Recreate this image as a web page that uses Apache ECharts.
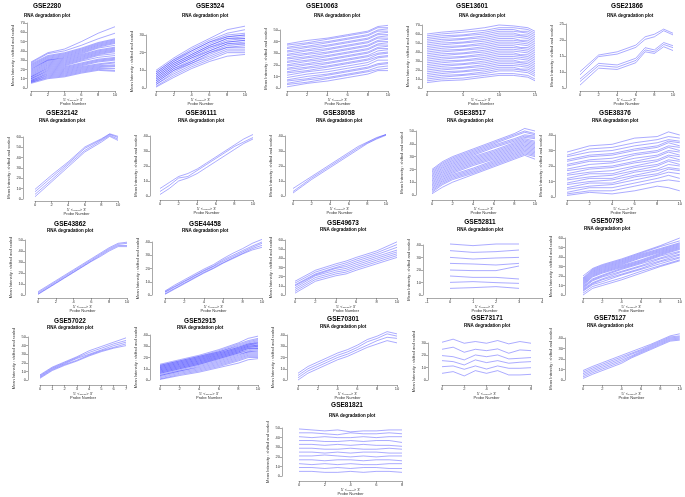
<!DOCTYPE html>
<html><head><meta charset="utf-8">
<script src="https://cdn.jsdelivr.net/npm/echarts@6/dist/echarts.min.js"></script>
<style>html,body{margin:0;padding:0;background:#fff}#c{width:685px;height:497px}</style>
</head><body><div id="c"></div>
<script>
// ---------- DATA ----------
const xs6 = [0,2,4,6,8,10];
const xs11 = [0,1,2,3,4,5,6,7,8,9,10];
const gse2280X = xs6;
const gse2280 = [[28,38,42,50,59,66],[27,37,40,46,53,59],[26,35,38,43,49,53],[25,34,37,42,48,52],[24,33,36,41,47,51],[23,32,35,40,46,50],[22,31,34,39,45,49],[21,30,33,38,44,48],[20,30,32,37,43,46],[19,29,31,36,41,44],[18,28,30,35,40,43],[17,27,29,34,39,42],[16,26,28,33,38,41],[15,25,27,32,37,40],[14,24,26,31,36,39],[13,23,25,30,35,37],[12,22,24,29,33,35],[12,21,23,27,31,33],[11,20,22,26,30,32],[10,19,21,25,29,31],[10,18,20,24,28,30],[9,17,19,23,26,28],[8,16,18,22,25,27],[8,15,17,21,24,25],[7,14,16,20,23,24],[7,13,15,19,22,23],[6,12,14,18,21,21],[6,11,13,17,20,19],[5,10,12,16,19,18]];
const gse3524X = xs6;
const gse3524 = [[10,17,23,28,33,35],[9,16,22,27,31,33],[9,16,21,26,30,31],[8,15,21,26,29,30],[8,15,20,25,29,30],[7,14,19,24,28,29],[7,14,19,24,28,28],[6,13,18,23,27,28],[6,13,18,23,26,27],[5,12,17,22,26,27],[5,12,17,21,25,26],[4,11,16,21,25,25],[4,11,15,20,24,25],[3,10,15,20,23,24],[3,10,14,19,23,23],[2,9,14,18,22,22],[2,8,13,17,21,21],[1,7,12,16,20,20],[0.5,6,11,15,18,19]];
const gse10063X = [0,2,4,6,8,9,10];
const gse10063 = [[38,41,43,46,49,53,54],[37,39,42,45,48,52,52],[35,38,40,43,46,50,51],[34,36,39,42,45,49,49],[32,35,37,40,43,47,48],[31,33,36,39,42,46,46],[29,32,34,37,40,44,45],[28,30,33,36,39,43,43],[26,29,31,34,37,41,42],[25,27,30,33,36,40,40],[23,26,28,31,34,38,39],[22,24,27,30,33,37,37],[20,23,25,28,31,35,36],[19,21,24,27,30,34,34],[17,20,22,25,28,32,33],[16,18,21,24,27,30,31],[14,17,19,22,25,29,30],[13,15,18,21,24,27,28],[11,14,16,19,22,26,27],[9,12,14,17,20,24,24],[7,10,12,15,18,21,22],[6,8,11,14,17,20,21],[4,7,9,12,15,18,19],[3,5,8,11,14,16,17],[1,4,6,9,12,15,15]];
const gse13601X = [0,2,5,8,10,12,13,14,15];
const gse13601 = [[60,62,64,67,70,69,68,67,63],[58,60,62,64,67,67,66,65,61],[56,58,59,62,65,65,63,63,59],[54,56,58,60,63,63,62,61,57],[52,54,55,58,61,61,59,59,55],[50,52,54,56,59,59,58,57,53],[48,50,51,54,57,57,56,55,51],[46,48,50,52,55,55,53,53,49],[44,46,47,50,53,53,52,51,47],[42,44,46,48,51,51,50,49,45],[40,42,43,46,49,49,48,47,43],[38,40,42,44,47,47,45,45,41],[36,38,39,42,45,45,44,43,39],[34,36,38,40,43,43,42,41,37],[32,34,35,38,41,41,40,39,35],[30,32,34,36,39,39,37,37,33],[28,30,31,34,37,37,36,35,31],[26,28,30,32,35,35,34,33,29],[24,26,27,30,33,33,32,31,27],[22,24,26,28,31,31,29,29,25],[20,22,23,26,29,29,28,27,23],[18,20,22,24,27,27,26,25,21],[16,18,19,22,25,25,24,23,19],[14,16,18,20,23,23,21,21,17],[12,14,15,18,21,21,20,19,15],[10,12,14,16,19,19,18,17,13],[8,10,11,14,16,16,15,14,10],[6,8,9,12,14,14,13,12,8]];
const gse21866X = [0,2,4,6,7,8,9,10];
const gse21866 = [[10.1,15.3,16.3,18.4,21.0,21.8,23.4,22.1],[9.1,14.8,15.6,17.7,20.2,21.0,22.9,21.6],[7.8,12.7,12.2,14.3,17.6,16.9,19.2,18.2],[7.0,12.0,11.5,13.6,16.9,16.3,18.6,17.6],[5.9,11.2,10.8,12.9,16.3,15.8,17.9,16.7]];
const gse32142X = [0,2,4,6,8,9,10];
const gse32142 = [[9.3,23.1,35.9,50.3,58.3,63.1,60.6],[7,21,34.5,49,57.5,62.5,59.5],[4.5,18.5,33,47,56.5,61.5,58],[2.2,16.6,31.1,45.5,55.1,60.6,56.7]];
const gse36111X = xs11;
const gse36111 = [[5,9,13,15,18,22,26,30,34,38,41],[3,7,12,13,17,21,25,29,33,36,39],[1,5,10,12,15,19,23,27,31,35,38]];
const gse38058X = xs11;
const gse38058 = [[5,9,13,17,21,25,29,33,36,39,41],[3,7.5,12,16,20,24,28,32,35.5,38.5,41],[2,6.5,11,15,19,23,27,31,35,38,40.5]];
const gse38517X = [0,1,2,4,6,8,9,10];
const gse38517 = [[20,26,30,36,42,48,52,50],[19,25,29,35,41,47,50,48],[18,24,28,34,40,46,49,47],[17,23,27,33,39,44,47,46],[16,22,26,32,38,43,46,45],[15,21,25,31,37,42,45,44],[14,20,24,30,35,41,44,42],[13,19,23,29,34,40,43,41],[12,18,22,28,33,39,42,40],[11,17,21,27,32,38,41,39],[10,16,20,26,31,37,40,38],[9,15,19,25,30,36,39,37],[8,14,18,24,29,35,38,36],[7,13,17,23,28,34,37,35],[6,12,16,21,27,33,36,34],[5,11,15,20,26,32,35,33],[4,10,14,19,25,31,34,32],[3,9,13,18,24,30,33,31],[2,8,12,17,23,29,32,30],[1,6,10,16,22,28,31,28]];
const gse38376X = [0,2,4,6,8,9,10];
const gse38376 = [[29,33,34,38,39,42,40],[27,31,32,35,37,39,38],[26,29,30,33,35,37,36],[24,27,28,31,33,36,35],[23,26,27,30,32,35,33],[21,24,25,28,30,33,32],[20,23,23,27,29,32,30],[18,21,22,25,27,30,29],[17,19,20,23,26,29,27],[15,18,19,22,24,27,26],[14,16,17,20,23,26,24],[12,15,15,19,21,24,23],[11,13,14,17,20,23,21],[9,12,12,16,18,21,20],[8,10,11,14,17,19,18],[6,9,9,13,15,18,17],[5,7,8,11,14,16,15],[3,6,6,9,12,14,12],[2,4,4,7,10,11,10],[1,3,2,4,7,6,4]];
const gse43862X = xs11;
const gse43862 = [[3,8,13,18,23,28,33,38,43,47,48],[2,7,12,17,22,27,32,37,42,46,47],[1,6,11,16,21,26,31,36,41,45,45],[0.5,5.5,10.5,15.5,20.5,25.5,30.5,35,40,44,44]];
const gse44458X = xs11;
const gse44458 = [[3,7.5,11.5,15.5,19.5,23,27.5,31.5,35,39,42],[2.5,6.5,10.5,14.5,18.5,22,26.5,30,33.5,37,40],[2,6,10,14,18,21.5,25.5,29,32.5,36,39],[1,5,9,13,17,20.5,24.5,28,31.5,35,37.5],[0.5,4.5,8.5,12.5,16.5,20,24,27.5,31,34,36]];
const gse49673X = [0,2,4,5,6,8,10];
const gse49673 = [[15,27,34,37,41,48,58],[13,25,32,35,39,46,55],[11,23,30,33,37,44,52],[10,22,29,31,35,42,49],[8,21,27,29,33,40,47],[6,19,25,27,31,38,45],[4,17,23,25,29,36,43],[2,15,21,23,27,34,41]];
const gse52811X = [0,1,2,3];
const gse52811 = [[40.8,39.5,40.8,40.8],[35.5,34.1,34.7,36],[30.1,28.8,29.6,30.1],[25.3,24.8,24,25.3],[20,19.5,19.5,23.2],[15.2,14.1,14.1,12.8],[10.1,10.7,9.9,9.3],[5.3,5.9,6.7,5.3]];
const gse50795X = [0,1,2,4,6,8,10];
const gse50795 = [[20,28,32,38,45,52,60],[18,27,31,37,44,51,57],[17,26,30,36,43,49,55],[16,25,29,35,42,48,54],[15,24,28,34,41,47,53],[14,23,27,33,40,46,52],[13,22,26,32,39,45,51],[12,21,25,31,37,44,50],[11,20,24,30,36,43,49],[10,19,23,29,35,42,48],[9,17,21,28,34,41,46],[8,16,20,27,33,39,45],[7,15,19,25,31,38,43],[6,13,17,24,30,36,42],[5,12,16,22,28,35,40],[4,11,14,21,27,33,39],[2,9,12,18,25,31,37],[0,7,10,16,23,30,36]];
const gse57022X = [0,1,2,3,4,5,6,7];
const gse57022 = [[6,15,21,27,34,39,44,49],[5,14,20,26,32,37,42,46],[4,13,19,25,30,35,40,44],[3,12,18,23,29,34,38,42],[2,11,17,22,28,33,37,40]];
const gse52915X = [0,2,4,6,8,9,10];
const gse52915 = [[14,18,22,27,33,37,39],[13,17,21,26,32,35,37],[13,17,21,25,31,34,36],[12,16,20,25,30,33,35],[12,16,20,24,29,32,34],[11,15,19,24,29,32,33],[11,15,19,23,28,31,33],[10,14,18,23,28,31,32],[10,14,18,22,27,30,31],[9,13,17,22,27,30,31],[9,13,17,21,26,29,30],[8,12,16,21,26,29,30],[8,12,16,20,25,28,29],[7,11,15,20,25,28,28],[7,11,15,19,24,27,28],[6,10,14,19,24,26,27],[6,10,14,18,23,25,26],[5,9,13,17,22,25,25],[4,8,12,16,21,24,24],[4,8,11,15,20,23,23],[3,7,10,14,19,22,22],[2,6,9,13,18,21,21],[1,5,8,12,17,20,20],[0.5,4,7,11,15,18,19]];
const gse70301X = xs11;
const gse70301 = [[6,12,16,20,24,27,31,36,39,43,41],[4,10,14,18,22,25,29,34,37,41,39],[2,8,12,16,20,23,27,31,35,38,37],[0,6,10,14,18,21,25,29,32,35,33]];
const gse73171X = [0,1,2,3,4,5,6,7,8];
const gse73171 = [[30.6,33.1,29.8,31.2,29.8,32,29.3,31.2,29.8],[24.9,26.6,22.5,24.9,23.8,25.2,21.7,24.4,23.8],[19.8,18.9,16.3,20.3,18.9,20.3,17.1,17.6,18.2],[15.7,14.9,12.2,16.3,14.1,15.7,13.6,14.4,14.9],[10.8,11.4,8.7,11.4,8.9,11.4,9.5,9.5,10],[5.4,6.8,3.3,7.6,5.4,7.6,4.1,4.1,4.6]];
const gse75127X = xs11;
const gse75127 = [[9,13,16.5,20,23.5,27,30.5,34,38,42,44],[7.5,11.5,15,18.5,22,25.5,29,33,37,41,42],[6,10,13.5,17,20.5,24.5,28,32,36,40,41],[4.5,8.5,12,15.5,19,23,27,31,35,39,40],[3,7,10.5,14,17.5,22,26,30,34,38,39],[1.5,5.5,9,12.5,16,21,25,29,33,37,38]];
const gse81821X = [0,1,2,3,4,5,6,7,8];
const gse81821 = [[49,48,47,48,46,47,47,48,48],[45,45,44,43,45,44,44,45,44],[41,40,41,40,40,41,40,41,41],[37,37,36,36,37,36,37,37,35],[33,33,32,33,32,33,32,32,31],[29,29,28,28,29,28,28,29,28],[25,25,24,25,24,25,25,24,24],[21,21,22,21,20,21,20,21,21],[17,17,16,17,17,16,17,17,16],[13,12,13,12,13,12,12,13,13],[9,9,8,9,8,9,9,8,8],[5,5,4,4,5,4,5,5,4]];

const names = ['GSE2280','GSE3524','GSE10063','GSE13601','GSE21866','GSE32142','GSE36111','GSE38058','GSE38517','GSE38376','GSE43862','GSE44458','GSE49673','GSE52811','GSE50795','GSE57022','GSE52915','GSE70301','GSE73171','GSE75127','GSE81821'];
const lineData = {GSE2280:[gse2280X,gse2280],GSE3524:[gse3524X,gse3524],GSE10063:[gse10063X,gse10063],GSE13601:[gse13601X,gse13601],GSE21866:[gse21866X,gse21866],GSE32142:[gse32142X,gse32142],GSE36111:[gse36111X,gse36111],GSE38058:[gse38058X,gse38058],GSE38517:[gse38517X,gse38517],GSE38376:[gse38376X,gse38376],GSE43862:[gse43862X,gse43862],GSE44458:[gse44458X,gse44458],GSE49673:[gse49673X,gse49673],GSE52811:[gse52811X,gse52811],GSE50795:[gse50795X,gse50795],GSE57022:[gse57022X,gse57022],GSE52915:[gse52915X,gse52915],GSE70301:[gse70301X,gse70301],GSE73171:[gse73171X,gse73171],GSE75127:[gse75127X,gse75127],GSE81821:[gse81821X,gse81821]};

// ---------- LAYOUT (pixels) ----------
const layout = {
 GSE2280:{tx:47,ty:6,sx:47,sy:16,l:31,r:115,t:23,b:88,ax:27,xa:91,x:[0,10,2],y:[0,70,10]},
 GSE3524:{tx:210,ty:6,sx:205,sy:16,l:156,r:245,t:35,b:88,ax:146,xa:91,x:[0,10,2],y:[0,30,10]},
 GSE10063:{tx:322,ty:6,sx:337,sy:16,l:287,r:388,t:30,b:88,ax:280,xa:91,x:[0,10,2],y:[0,50,10]},
 GSE13601:{tx:472,ty:6,sx:482,sy:16,l:427,r:535,t:25,b:88,ax:422,xa:91,x:[0,15,5],y:[0,70,10]},
 GSE21866:{tx:627,ty:6,sx:630,sy:16,l:580,r:673,t:24,b:88,ax:566,xa:91,x:[0,10,2],y:[5,25,5]},
 GSE32142:{tx:62,ty:113,sx:62,sy:121,l:35,r:118,t:137,b:199,ax:23,xa:201,x:[0,10,2],y:[0,60,10]},
 GSE36111:{tx:201,ty:113,sx:201,sy:121,l:160,r:253,t:136,b:196,ax:150,xa:200,x:[0,10,2],y:[0,40,10]},
 GSE38058:{tx:339,ty:113,sx:339,sy:121,l:293,r:386,t:136,b:196,ax:285,xa:200,x:[0,10,2],y:[0,40,10]},
 GSE38517:{tx:470,ty:113,sx:470,sy:121,l:432,r:535,t:131,b:195,ax:416,xa:200,x:[0,10,2],y:[0,50,10]},
 GSE38376:{tx:615,ty:113,sx:615,sy:121,l:567,r:680,t:135,b:197,ax:555,xa:200,x:[0,10,2],y:[0,40,10]},
 GSE43862:{tx:70,ty:224,sx:70,sy:231,l:38,r:127,t:240,b:295,ax:25,xa:298,x:[0,10,2],y:[0,50,10]},
 GSE44458:{tx:205,ty:224,sx:205,sy:231,l:165,r:262,t:242,b:295,ax:152,xa:298,x:[0,10,2],y:[0,40,10]},
 GSE49673:{tx:343,ty:223,sx:343,sy:230,l:295,r:397,t:240,b:295,ax:285,xa:298,x:[0,10,2],y:[0,60,10]},
 GSE52811:{tx:480,ty:222,sx:480,sy:230,l:427,r:542,t:245,b:295,ax:423,xa:298,x:[-1,4,1],y:[0,40,10]},
 GSE50795:{tx:607,ty:221,sx:607,sy:229,l:583,r:680,t:238,b:295,ax:565,xa:298,x:[0,10,2],y:[0,60,10]},
 GSE57022:{tx:70,ty:321,sx:70,sy:328,l:40,r:126,t:337,b:380,ax:28,xa:385,x:[0,7,1],y:[0,50,10]},
 GSE52915:{tx:200,ty:321,sx:200,sy:328,l:160,r:258,t:335,b:380,ax:150,xa:385,x:[0,10,2],y:[0,40,10]},
 GSE70301:{tx:343,ty:319,sx:343,sy:327,l:298,r:397,t:335,b:380,ax:287,xa:385,x:[0,10,2],y:[0,40,10]},
 GSE73171:{tx:487,ty:318,sx:487,sy:326,l:442,r:531,t:343,b:380,ax:428,xa:385,x:[0,8,2],y:[0,30,10]},
 GSE75127:{tx:610,ty:318,sx:610,sy:326,l:583,r:680,t:338,b:380,ax:565,xa:385,x:[0,10,2],y:[0,40,10]},
 GSE81821:{tx:347,ty:405,sx:352,sy:416,l:299,r:402,t:428,b:479,ax:282,xa:484,x:[0,8,2],y:[0,50,10]}
};

// ---------- BUILD ----------
const FONT = 'Liberation Sans';
const axisColor = '#555';
const grids = [], xAxes = [], yAxes = [], series = [], graphics = [];
names.forEach((nm, i) => {
  const L = layout[nm];
  grids.push({left:L.l, top:L.t, width:L.r-L.l, height:L.b-L.t});
  xAxes.push({type:'value', gridIndex:i, min:L.x[0], max:L.x[1], interval:L.x[2],
    offset:L.xa-L.b,
    axisLine:{show:true, onZero:false, lineStyle:{color:axisColor, width:0.5}},
    axisTick:{show:true, length:2, lineStyle:{color:axisColor, width:0.5}},
    axisLabel:{fontSize:4, margin:1.5, color:'#333', fontFamily:FONT},
    splitLine:{show:false},
    name:"5' <-----> 3'\nProbe Number", nameLocation:'middle', nameGap:6,
    nameTextStyle:{fontSize:4, lineHeight:4.2, color:'#333', fontFamily:FONT}});
  yAxes.push({type:'value', gridIndex:i, min:L.y[0], max:L.y[1], interval:L.y[2],
    offset:L.l-L.ax,
    axisLine:{show:true, onZero:false, lineStyle:{color:axisColor, width:0.5}},
    axisTick:{show:true, length:2, lineStyle:{color:axisColor, width:0.5}},
    axisLabel:{fontSize:4, margin:2, color:'#333', fontFamily:FONT},
    splitLine:{show:false},
    name:'Mean Intensity : shifted and scaled', nameLocation:'middle', nameGap:12,
    nameTextStyle:{fontSize:4, color:'#333', fontFamily:FONT}});
  const [xv, lines] = lineData[nm];
  lines.forEach(ln => {
    series.push({type:'line', xAxisIndex:i, yAxisIndex:i, data: xv.map((x,k)=>[x, ln[k]]),
      symbol:'none', showSymbol:false, clip:false, silent:true, animation:false,
      lineStyle:{color:'rgba(40,40,255,0.72)', width:0.55}});
  });
  graphics.push({type:'text', x:L.tx, y:L.ty, style:{text:nm, fill:'#000', font:'bold 6.5px '+FONT, textAlign:'center', textVerticalAlign:'middle', align:'center', verticalAlign:'middle'}});
  graphics.push({type:'text', x:L.sx, y:L.sy, style:{text:'RNA degradation plot', fill:'#000', font:'bold 4.5px '+FONT, textAlign:'center', textVerticalAlign:'middle', align:'center', verticalAlign:'middle'}});
});

const chart = echarts.init(document.getElementById('c'), null, {renderer:'canvas'});
chart.setOption({animation:false, backgroundColor:'#fff', grid:grids, xAxis:xAxes, yAxis:yAxes, series:series, graphic:graphics});
</script></body></html>
